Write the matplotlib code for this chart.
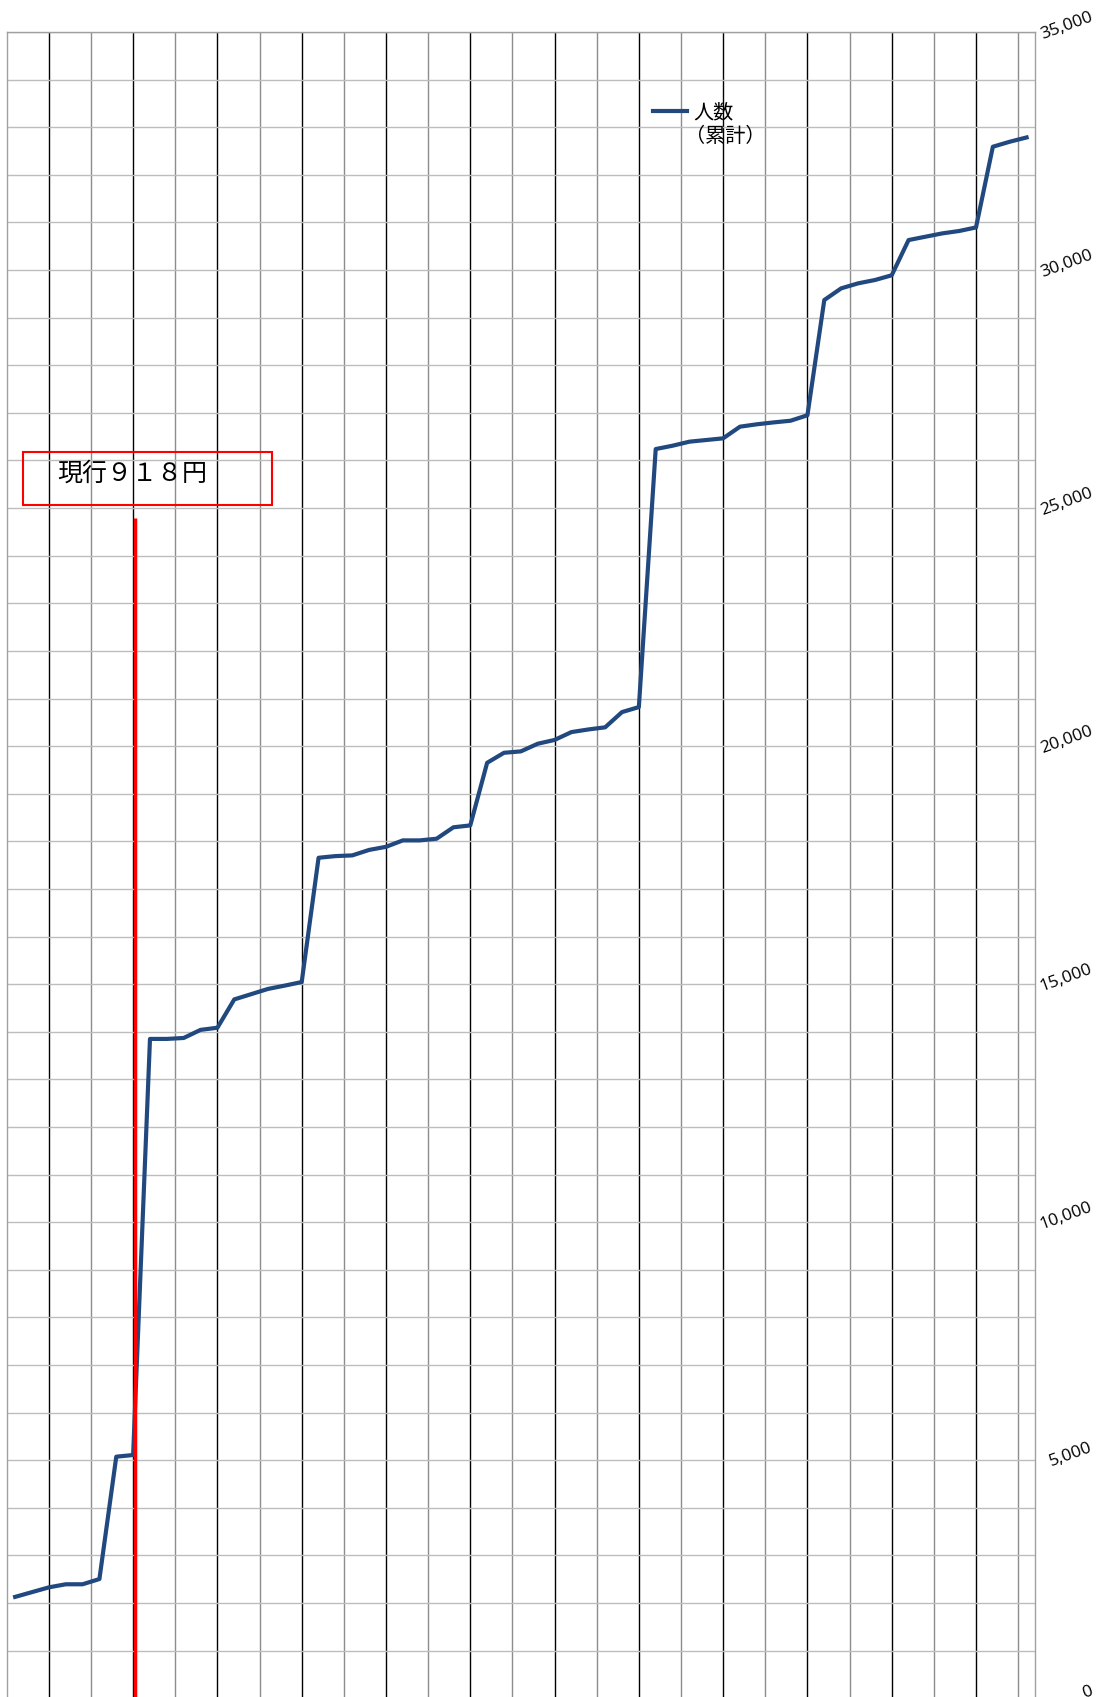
import matplotlib.pyplot as plt
import matplotlib.transforms as mtransforms
from matplotlib.lines import Line2D
from matplotlib.patches import Rectangle
import numpy as np

# cumulative head count (人数 累計), one value per period
ninzu = [2130, 2230, 2330, 2395, 2395, 2505, 5075, 5110,
         13850, 13850, 13870, 14040, 14085, 14680, 14790, 14900, 14970, 15045,
         17655, 17690, 17705, 17820, 17885, 18020, 18020, 18055, 18295, 18335,
         19650, 19860, 19890, 20050, 20130, 20295, 20350, 20395, 20715, 20820,
         26240, 26310, 26395, 26430, 26465, 26710, 26760, 26800, 26835, 26950,
         29370, 29615, 29720, 29790, 29890, 30630, 30700, 30770, 30820, 30895,
         32590, 32695, 32785]
periods = np.arange(len(ninzu))

ytick_vals = [0, 5000, 10000, 15000, 20000, 25000, 30000, 35000]
ytick_labels = ['0', '5,000', '10,000', '15,000', '20,000', '25,000', '30,000', '35,000']

series_name = '人数'
series_note = '（累計）'
price_note = '現行９１８円'
# red marker line: period where it stands and how high it goes
marker_period = 7.1
marker_top = 24800

plt.rcParams['font.family'] = ['Noto Sans CJK JP', 'DejaVu Sans']

W, H = 1098, 1697
fig = plt.figure(figsize=(W / 100, H / 100), dpi=100)
# plot area runs from x=6.7..1035 px, y=32 px down to just below the bottom edge
ax = fig.add_axes([6.7 / W, (H - 1698.3) / H, 1028.3 / W, 1666.3 / H])

line_col = '#21497f'
ax.plot(periods, ninzu, color=line_col, lw=3.0, solid_joinstyle='round', zorder=3,
        label=series_name)
ax.vlines(marker_period, 0, marker_top, color='red', lw=2.5, zorder=4)

ax.set_xlim(-0.5, len(ninzu) - 0.5)
ax.set_ylim(0, 35000)

# grid: black every 5 periods, grey half way between, horizontal every 1,000
ax.set_xticks(np.arange(2, len(ninzu), 5))
ax.set_xticks(np.arange(4.5, len(ninzu), 5), minor=True)
ax.set_yticks(np.arange(0, 35001, 1000), minor=True)
ax.grid(axis='x', which='major', color='black', lw=1.0)
ax.grid(axis='x', which='minor', color='#8c8c8c', lw=1.0)
ax.grid(axis='y', which='both', color='#bdbdbd', lw=1.0)
ax.set_axisbelow(True)
ax.tick_params(axis='x', which='both', length=0, labelbottom=False)

for side in ['left', 'top', 'right']:
    ax.spines[side].set_color('#a0a0a0')
    ax.spines[side].set_linewidth(1.0)
ax.spines['bottom'].set_visible(False)

# y labels on the right, tilted
ax.yaxis.tick_right()
ax.set_yticks(ytick_vals, ytick_labels)
ax.tick_params(axis='y', which='both', length=0, labelsize=12.5, pad=43, labelrotation=20)
lift = mtransforms.ScaledTranslation(0, 0.06, fig.dpi_scale_trans)
for t in ax.yaxis.get_major_ticks():
    t.label2.set_fontfamily('Open Sans')
    t.label2.set_ha('right')
    t.label2.set_va('center')
    t.label2.set_transform(t.label2.get_transform() + lift)

# note box
ax.add_patch(Rectangle((0.01614, 0.7161), 0.2416, 0.032, transform=ax.transAxes,
                       fill=False, edgecolor='red', lw=1.5, zorder=5))
ax.text(0.0495, 0.7347, price_note, transform=ax.transAxes, fontsize=18,
        ha='left', va='center', zorder=6)

# legend; the second line of the label sits under the name
ax.legend(loc='upper left', bbox_to_anchor=(0.6285, 0.958),
          frameon=False, fontsize=14.5, handlelength=1.7, handletextpad=0.3,
          borderpad=0, borderaxespad=0)
ax.text(0.6595, 0.9375, series_note, transform=ax.transAxes, fontsize=14.5,
        ha='left', va='center')

fig.savefig('out.png', dpi=100)
